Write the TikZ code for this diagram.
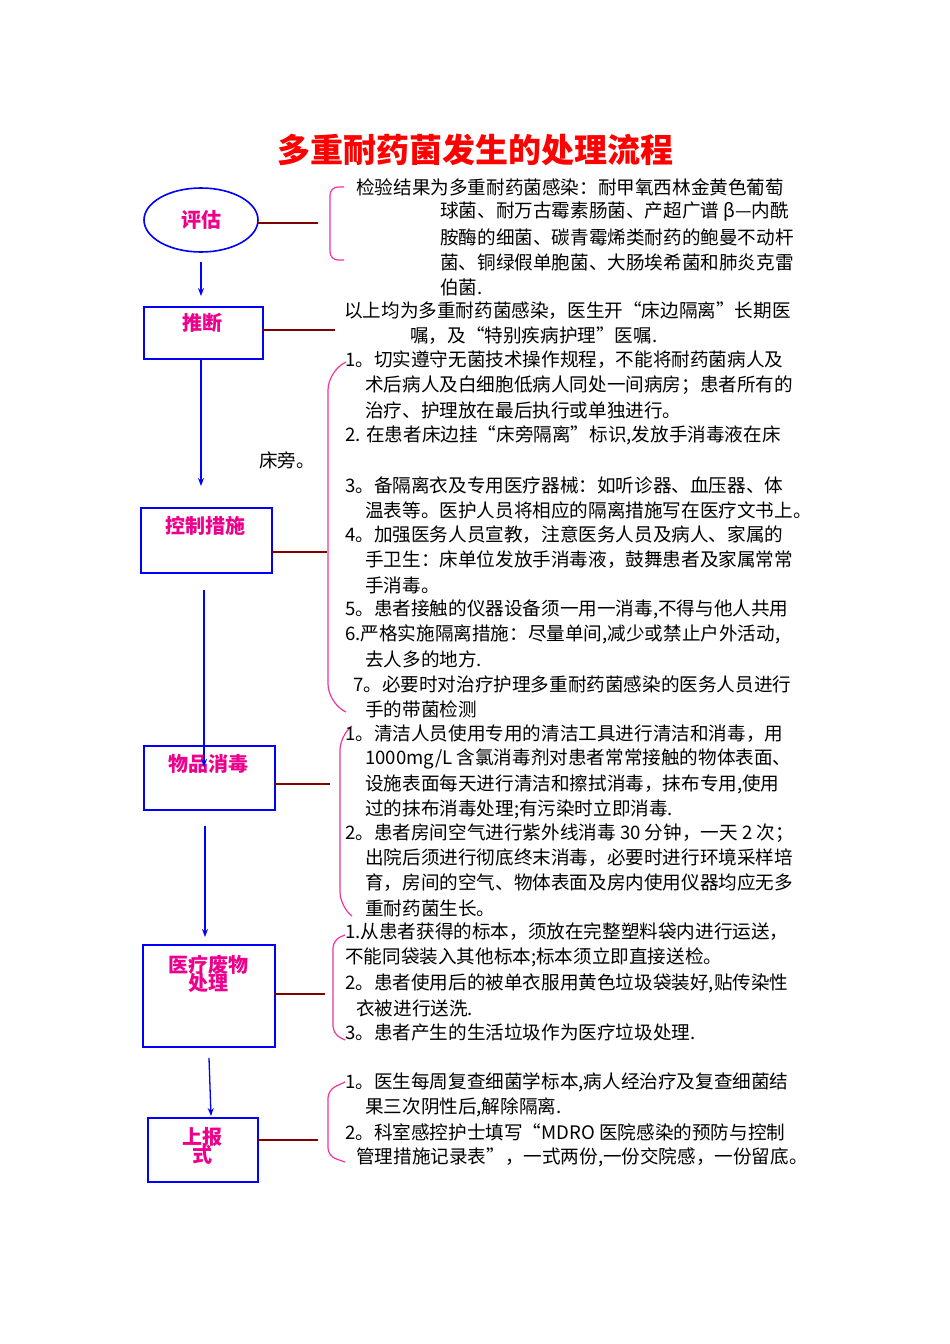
\documentclass[tikz,border=0pt]{standalone}
\usepackage{fontspec}
\setmainfont{Noto Sans CJK SC}
\usetikzlibrary{shapes.geometric,arrows.meta}
\tikzset{
 txt/.style={anchor=west,inner sep=0pt,font=\fontsize{18.6}{20}\selectfont},
 stepbox/.style={draw=blue,line width=1.6pt,font=\fontsize{20}{22}\bfseries\selectfont,text=magenta,align=center},
 lbl/.style={text=magenta,font=\fontsize{20}{22}\bfseries\selectfont,align=center},
 lnk/.style={draw=red!50!black,line width=1.2pt},
 brk/.style={draw=magenta!80,line width=1.2pt,rounded corners=8pt},
 arr/.style={draw=blue,line width=1.3pt,-{Stealth[length=8pt]}}
}
\begin{document}
\begin{tikzpicture}[x=1pt,y=-1pt]
\useasboundingbox (0,0) rectangle (950,1344);
\node[text=red,font=\fontsize{33}{36}\bfseries\selectfont] (title) at (475,150) {多重耐药菌发生的处理流程};
% nodes
\node[stepbox,ellipse,minimum width=114pt,minimum height=64pt] (e) at (201,220) {评估};
\node[stepbox,minimum width=119pt,minimum height=52pt,anchor=north west] (b1) at (143,306) {};
\node[lbl] at (202,323) {推断};
\node[stepbox,minimum width=131pt,minimum height=65pt,anchor=north west] (b2) at (140,507) {};
\node[lbl] at (205,526) {控制措施};
\node[stepbox,minimum width=131pt,minimum height=64pt,anchor=north west] (b3) at (143,745) {};
\node[lbl] at (208,764) {物品消毒};
\node[stepbox,minimum width=132pt,minimum height=102pt,anchor=north west] (b4) at (142,944) {};
\node[lbl] at (208,974) {医疗废物\\[-4pt]处理};
\node[stepbox,minimum width=110pt,minimum height=64pt,anchor=north west] (b5) at (147,1117) {};
\node[lbl] at (202,1146) {上报\\[-4pt]式};
% arrows
\coordinate (a1) at (201,262); \coordinate (a2) at (201,296);
\draw[arr] (a1) -- (a2);
\coordinate (a3) at (201,358); \coordinate (a4) at (201,486);
\draw[arr] (a3) -- (a4);
\coordinate (a5) at (204,590); \coordinate (a6) at (204,767);
\draw[arr] (a5) -- (a6);
\coordinate (a7) at (205,826); \coordinate (a8) at (205,937);
\draw[arr] (a7) -- (a8);
\coordinate (a9) at (209,1058); \coordinate (a10) at (211,1116);
\draw[arr] (a9) -- (a10);
% links
\coordinate (l1a) at (258,223); \coordinate (l1) at (318,223); \draw[lnk] (l1a) -- (l1);
\coordinate (l2a) at (262,330); \coordinate (l2) at (335,330); \draw[lnk] (l2a) -- (l2);
\coordinate (l3a) at (271,552); \coordinate (l3) at (327,552); \draw[lnk] (l3a) -- (l3);
\coordinate (l4a) at (274,784); \coordinate (l4) at (330,784); \draw[lnk] (l4a) -- (l4);
\coordinate (l5a) at (274,994); \coordinate (l5) at (325,994); \draw[lnk] (l5a) -- (l5);
\coordinate (l6a) at (257,1140); \coordinate (l6) at (318,1140); \draw[lnk] (l6a) -- (l6);
% brackets
\draw[brk] (344,187) -- (330,187) -- (330,260) -- (344,260);
\draw[brk,rounded corners=18pt] (346,362) -- (328,372) -- (328,702) -- (346,712);
\draw[brk,rounded corners=14pt] (352,726) -- (340,736) -- (340,906) -- (352,916);
\draw[brk] (345,935) -- (333,940) -- (333,1034) -- (345,1040);
\draw[brk] (345,1082) -- (328,1090) -- (328,1156) -- (345,1162);
% texts
\node[txt] at (356,187) {检验结果为多重耐药菌感染：耐甲氧西林金黄色葡萄};
\node[txt] at (440,212) {球菌、耐万古霉素肠菌、产超广谱 β—内酰};
\node[txt] at (440,237) {胺酶的细菌、碳青霉烯类耐药的鲍曼不动杆};
\node[txt] at (440,262) {菌、铜绿假单胞菌、大肠埃希菌和肺炎克雷};
\node[txt] at (440,287) {伯菌.};
\node[txt] at (344,311) {以上均为多重耐药菌感染，医生开“床边隔离"长期医};
\node[txt] at (410,336) {嘱，及“特别疾病护理”医嘱.};
\node[txt] at (345,360) {1。切实遵守无菌技术操作规程，不能将耐药菌病人及};
\node[txt] at (365,385) {术后病人及白细胞低病人同处一间病房；患者所有的};
\node[txt] at (365,410) {治疗、护理放在最后执行或单独进行。};
\node[txt] at (345,435) {2. 在患者床边挂“床旁隔离"标识,发放手消毒液在床};
\node[txt] at (259,460) {床旁。};
\node[txt] at (345,485) {3。备隔离衣及专用医疗器械：如听诊器、血压器、体};
\node[txt] at (365,510) {温表等。医护人员将相应的隔离措施写在医疗文书上。};
\node[txt] at (345,535) {4。加强医务人员宣教，注意医务人员及病人、家属的};
\node[txt] at (365,560) {手卫生：床单位发放手消毒液，鼓舞患者及家属常常};
\node[txt] at (365,585) {手消毒。};
\node[txt] at (345,609) {5。患者接触的仪器设备须一用一消毒,不得与他人共用};
\node[txt] at (345,634) {6.严格实施隔离措施：尽量单间,减少或禁止户外活动,};
\node[txt] at (365,659) {去人多的地方.};
\node[txt] at (353,684) {7。必要时对治疗护理多重耐药菌感染的医务人员进行};
\node[txt] at (365,709) {手的带菌检测};
\node[txt] at (345,734) {1。清洁人员使用专用的清洁工具进行清洁和消毒，用};
\node[txt] at (365,759) {1000mg/L 含氯消毒剂对患者常常接触的物体表面、};
\node[txt] at (365,784) {设施表面每天进行清洁和擦拭消毒，抹布专用,使用};
\node[txt] at (365,809) {过的抹布消毒处理;有污染时立即消毒.};
\node[txt] at (345,833) {2。患者房间空气进行紫外线消毒 30 分钟，一天 2 次；};
\node[txt] at (365,858) {出院后须进行彻底终末消毒，必要时进行环境采样培};
\node[txt] at (365,883) {育，房间的空气、物体表面及房内使用仪器均应无多};
\node[txt] at (365,908) {重耐药菌生长。};
\node[txt] at (345,932) {1.从患者获得的标本，须放在完整塑料袋内进行运送，};
\node[txt] at (345,957) {不能同袋装入其他标本;标本须立即直接送检。};
\node[txt] at (345,983) {2。患者使用后的被单衣服用黄色垃圾袋装好,贴传染性};
\node[txt] at (356,1008) {衣被进行送洗.};
\node[txt] at (345,1032) {3。患者产生的生活垃圾作为医疗垃圾处理.};
\node[txt] at (345,1082) {1。医生每周复查细菌学标本,病人经治疗及复查细菌结};
\node[txt] at (365,1107) {果三次阴性后,解除隔离.};
\node[txt] at (345,1132) {2。科室感控护士填写“MDRO 医院感染的预防与控制};
\node[txt] at (356,1157) {管理措施记录表”，一式两份,一份交院感，一份留底。};
\end{tikzpicture}
\end{document}
